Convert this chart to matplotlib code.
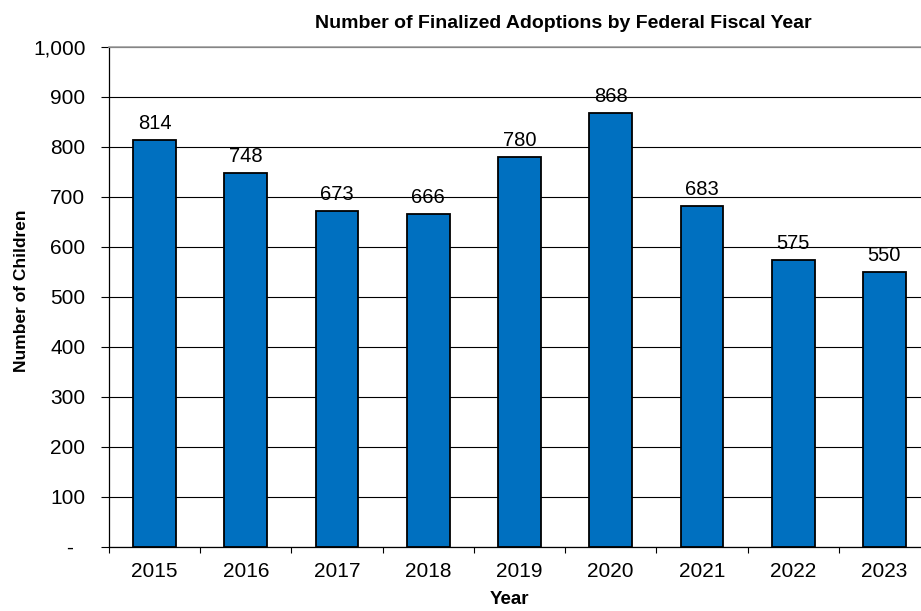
import matplotlib
import matplotlib.pyplot as plt
import numpy as np
from matplotlib.ticker import FixedLocator

matplotlib.use('Agg')

years = ['2015', '2016', '2017', '2018', '2019', '2020', '2021', '2022', '2023']
adoptions = [814, 748, 673, 666, 780, 868, 683, 575, 550]
y_ticks = [0, 100, 200, 300, 400, 500, 600, 700, 800, 900, 1000]

plt.rcParams['font.family'] = ['Liberation Sans', 'DejaVu Sans']

fig = plt.figure(figsize=(9.21, 6.11), dpi=100)
ax = fig.add_axes([109 / 921, 64 / 611, 821 / 921, 500 / 611])

x = np.arange(len(years))
bars = ax.bar(x, adoptions, 0.47, color='#0070C0', edgecolor='black', linewidth=1.3, zorder=3)
ax.bar_label(bars, labels=[str(v) for v in adoptions], padding=5, fontsize=14.5, zorder=4)

ax.set_xlim(-0.5, len(years) - 0.5)
ax.set_ylim(0, 1000)

ax.set_yticks(y_ticks)
ax.set_yticklabels(['-  ' if v == 0 else f'{v:,}' for v in y_ticks])
ax.yaxis.grid(True, color='black', linewidth=0.8, zorder=0)
ax.set_axisbelow(True)

ax.set_xticks(x)
ax.set_xticklabels(years)
ax.xaxis.set_minor_locator(FixedLocator(np.arange(-0.5, len(years), 1.0)))
ax.tick_params(axis='x', which='major', length=0, pad=11, labelsize=15)
ax.tick_params(axis='x', which='minor', length=4.5, width=0.8, direction='out')
ax.tick_params(axis='y', length=6, width=0.8, direction='out', pad=11, labelsize=15)

ax.spines['right'].set_visible(False)
ax.spines['top'].set_color('#a0a0a0')
ax.spines['top'].set_linewidth(1.2)
ax.spines['left'].set_linewidth(0.9)
ax.spines['bottom'].set_linewidth(0.9)

fig.text(563 / 921, 1 - 24 / 611, 'Number of Finalized Adoptions by Federal Fiscal Year',
         ha='center', va='center', fontsize=14, fontweight='bold')
fig.text(21 / 921, 1 - 291 / 611, 'Number of Children', rotation=90,
         ha='center', va='center', fontsize=12.5, fontweight='bold')
fig.text(509 / 921, 1 - 600 / 611, 'Year', ha='center', va='center', fontsize=13.5, fontweight='bold')

fig.savefig('out.png', dpi=100)
plt.close(fig)
